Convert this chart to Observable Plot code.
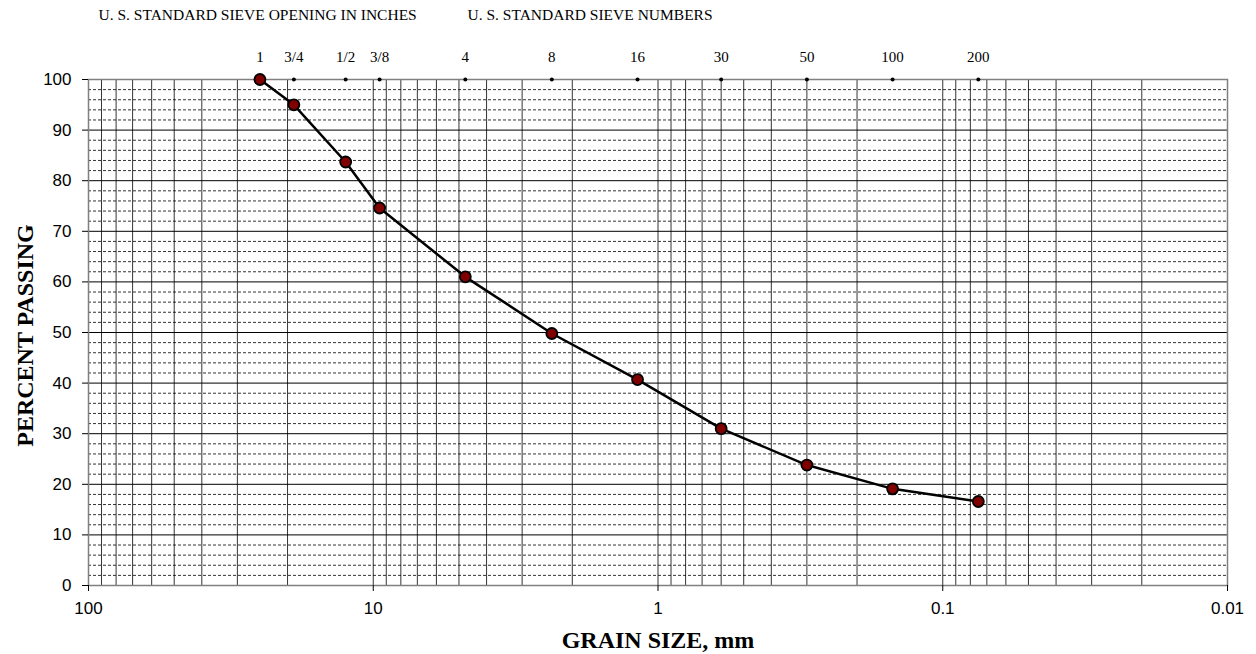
<!DOCTYPE html>
<html>
<head>
<meta charset="utf-8">
<script src="https://cdn.jsdelivr.net/npm/d3@7"></script>
<script src="https://cdn.jsdelivr.net/npm/@observablehq/plot@0.6"></script>
<style>
  html, body { margin: 0; padding: 0; background: #fff; }
  #chart { width: 1256px; height: 654px; }
</style>
</head>
<body>
<div id="chart"></div>
<script>
// ---- data ----
const sieveLabels = ["1", "3/4", "1/2", "3/8", "4", "8", "16", "30", "50", "100", "200"];
const sieveSizesMm = [25, 19, 12.5, 9.5, 4.75, 2.36, 1.18, 0.6, 0.3, 0.15, 0.075];
const percentPassing = [100, 95, 83.7, 74.6, 61, 49.8, 40.7, 31, 23.8, 19.1, 16.6];
const xTicks = [100, 10, 1, 0.1, 0.01];
const yTicks = [0, 10, 20, 30, 40, 50, 60, 70, 80, 90, 100];
const decades = [0.01, 0.1, 1, 10];
const minorMultipliers = [1, 2, 3, 4, 5, 6, 7, 8, 9];
const yMinorStep = 2;
const headerInches = "U. S. STANDARD SIEVE OPENING IN INCHES";
const headerNumbers = "U. S. STANDARD SIEVE NUMBERS";
const xTitle = "GRAIN SIZE, mm";
const yTitle = "PERCENT PASSING";

// ---- derived tables ----
const data = sieveSizesMm.map((s, i) => ({size: s, label: sieveLabels[i], pct: percentPassing[i]}));
const vGrid = decades.flatMap(d => minorMultipliers.map(m => +(d * m).toPrecision(6))).concat([100]);
const hMinor = d3.range(0, 101, yMinorStep).filter(v => v % 10 !== 0);
const topValue = d3.max(yTicks);

const serif = "'Liberation Serif', 'Times New Roman', serif";

const chart = Plot.plot({
  width: 1256,
  height: 654,
  marginLeft: 88,
  marginRight: 29,
  marginTop: 79,
  marginBottom: 69,
  style: {fontFamily: "'Liberation Sans', Arial, sans-serif", fontSize: "17px", color: "#000", background: "#fff"},
  x: {type: "log", domain: [100, 0.01]},
  y: {domain: [0, 100]},
  marks: [
    Plot.ruleX(vGrid, {stroke: "#000", strokeWidth: 1, strokeOpacity: 0.8}),
    Plot.ruleY(hMinor, {stroke: "#000", strokeWidth: 1, strokeDasharray: "3,2", strokeOpacity: 0.8}),
    Plot.ruleY(yTicks, {stroke: "#000", strokeWidth: 1}),
    Plot.frame({stroke: "#808080", strokeWidth: 1.5}),
    Plot.axisX({ticks: xTicks, tickSize: 6, tickPadding: 10, tickFormat: d => String(d), label: null}),
    Plot.axisY({ticks: yTicks, tickSize: 6, tickPadding: 11, label: null}),
    Plot.dot(data, {x: "size", y: () => topValue, r: 2, fill: "#000"}),
    Plot.text(data, {x: "size", y: () => topValue, text: "label", dy: -22, lineAnchor: "middle", fontFamily: serif, fontSize: 15}),
    Plot.line(data, {x: "size", y: "pct", stroke: "#000", strokeWidth: 2.5}),
    Plot.dot(data, {x: "size", y: "pct", r: 5.5, fill: "#800000", stroke: "#000", strokeWidth: 1.8}),
    Plot.text([headerInches], {frameAnchor: "top-left", text: d => d, dx: 10, dy: -64, textAnchor: "start", lineAnchor: "middle", fontFamily: serif, fontSize: 15.5}),
    Plot.text([headerNumbers], {frameAnchor: "top-left", text: d => d, dx: 379, dy: -64, textAnchor: "start", lineAnchor: "middle", fontFamily: serif, fontSize: 15.5}),
    Plot.text([xTitle], {frameAnchor: "bottom", text: d => d, dy: 55, textAnchor: "middle", lineAnchor: "middle", fontFamily: serif, fontWeight: "bold", fontSize: 24}),
    Plot.text([yTitle], {frameAnchor: "left", text: d => d, dx: -63, dy: 3, rotate: -90, textAnchor: "middle", lineAnchor: "middle", fontFamily: serif, fontWeight: "bold", fontSize: 24})
  ]
});
document.getElementById("chart").appendChild(chart);
</script>
</body>
</html>
